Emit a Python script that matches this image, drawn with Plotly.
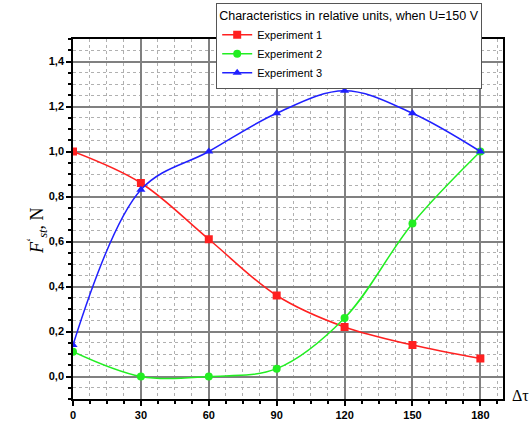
import plotly.graph_objects as go

x_vals = [0, 30, 60, 90, 120, 150, 180]
exp1 = [1.0, 0.86, 0.61, 0.36, 0.22, 0.14, 0.08]
exp2 = [0.11, 0.0, 0.0, 0.035, 0.26, 0.68, 1.0]
exp3 = [0.14, 0.83, 1.0, 1.17, 1.27, 1.17, 1.0]
y_ticks = [0.0, 0.2, 0.4, 0.6, 0.8, 1.0, 1.2, 1.4]
y_tick_text = ["0,0", "0,2", "0,4", "0,6", "0,8", "1,0", "1,2", "1,4"]
x_ticks = [0, 30, 60, 90, 120, 150, 180]

series = [
    ("Experiment 1", exp1, "#ff2020", "square"),
    ("Experiment 2", exp2, "#22ee22", "circle"),
    ("Experiment 3", exp3, "#2020ff", "triangle-up"),
]

fig = go.Figure()
for name, ys, col, sym in series:
    fig.add_trace(go.Scatter(
        x=x_vals, y=ys, name=name, mode="lines+markers",
        line=dict(color=col, width=1.5, shape="spline", smoothing=1.0),
        marker=dict(symbol=sym, size=8, color=col),
    ))

axis_common = dict(
    showline=True, linecolor="black", linewidth=1.5, mirror=True,
    ticks="outside", tickcolor="black", ticklen=5, tickwidth=1.5,
    showgrid=True, gridcolor="#808080", gridwidth=1.5,
    zeroline=False,
    tickfont=dict(family="Liberation Sans, Arial", size=11, color="black", weight="bold"),
)

fig.update_xaxes(
    range=[0, 190], tickvals=x_ticks, **axis_common,
    minor=dict(dtick=7.5, tick0=0, ticks="outside", ticklen=3, tickcolor="black",
               showgrid=True, gridcolor="#b0b0b0", griddash="dot", gridwidth=1),
)
fig.update_yaxes(
    range=[-0.1, 1.5], tickvals=y_ticks, ticktext=y_tick_text, **axis_common,
    minor=dict(dtick=0.05, tick0=0, ticks="outside", ticklen=3, tickcolor="black",
               showgrid=True, gridcolor="#b0b0b0", griddash="dot", gridwidth=1),
)

fig.add_annotation(
    text="<i>F</i><sup>‘</sup><sub><i>st</i></sub>, N",
    xref="paper", yref="paper", x=-0.117, y=0.467, textangle=-90,
    showarrow=False, font=dict(family="Liberation Serif, Times New Roman", size=18, color="black"),
)
fig.add_annotation(
    text="Δτ", xref="paper", yref="paper", x=1.017, y=0.011, xanchor="left", yanchor="middle",
    showarrow=False, font=dict(family="Liberation Serif, Times New Roman", size=16, color="black"),
)

fig.update_layout(
    width=532, height=428,
    margin=dict(l=73, r=29, t=39, b=29, autoexpand=False),
    paper_bgcolor="white", plot_bgcolor="white",
    legend=dict(
        title=dict(text="Characteristics in relative units, when U=150 V",
                   font=dict(family="Liberation Sans, Arial", size=12.5, color="black")),
        font=dict(family="Liberation Sans, Arial", size=11, color="black"),
        x=0.333, y=1.1, xanchor="left", yanchor="top",
        bgcolor="white", bordercolor="#555555", borderwidth=1,
        tracegroupgap=0, itemwidth=30,
    ),
)

fig.write_html("out.html", config={"displayModeBar": False},
               post_script="document.body.style.margin='0';")
